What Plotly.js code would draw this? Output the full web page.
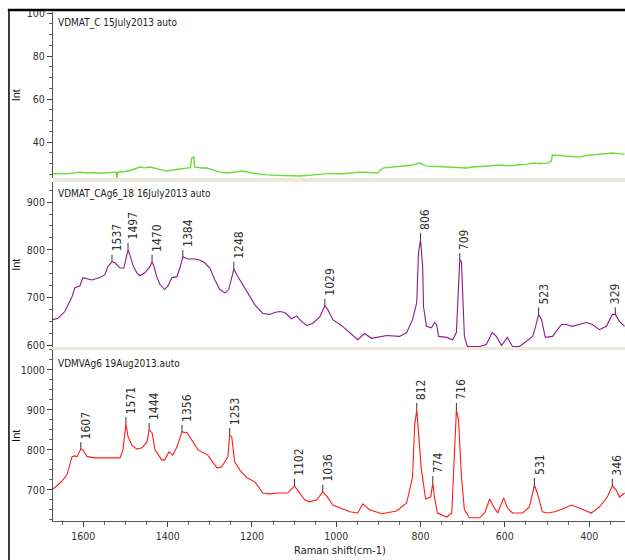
<!DOCTYPE html>
<html>
<head>
<meta charset="utf-8">
<script src="https://cdn.plot.ly/plotly-3.0.1.min.js"></script>
<style>html,body{margin:0;padding:0;background:#fff;}#chart{width:625px;height:560px;}</style>
</head>
<body>
<div id="chart"></div>
<script>
// ---- Data ----
const panelTitles = ["VDMAT_C 15July2013 auto", "VDMAT_CAg6_18 16July2013 auto", "VDMVAg6 19Aug2013.auto"];

// Top panel (green)
const greenX = [1672,1655,1640,1625,1608,1590,1575,1560,1540,1522,1520,1518,1500,1485,1466,1455,1442,1425,1402,1380,1360,1354,1346,1343,1338,1336,1330,1320,1307,1290,1275,1260,1240,1222,1200,1185,1165,1140,1115,1087,1060,1039,1015,992,970,944,920,902,890,870,850,835,819,802,786,760,731,710,691,677,650,630,613,590,572,550,534,515,499,490,487,470,454,440,423,410,399,380,360,345,330,316];
const greenY = [25.1,25.4,25.2,25.7,26.0,25.6,25.8,25.5,25.9,26.0,23.3,26.0,26.3,27.0,28.4,28.0,28.4,27.6,26.5,27.2,27.6,27.9,28.1,32.6,33.0,28.4,28.2,27.9,27.9,27.0,26.0,25.6,26.0,26.5,25.6,25.2,24.7,24.5,24.3,24.2,24.6,25.1,25.4,25.1,25.6,26.0,25.8,25.6,27.9,28.3,28.6,29.0,29.3,30.2,28.8,28.6,28.4,28.0,27.9,28.4,28.6,29.0,29.3,28.9,29.3,29.6,30.2,30.0,30.2,31.0,34.0,33.7,33.5,33.2,33.0,33.6,34.0,34.2,34.5,34.9,34.6,34.4];

// Middle panel (purple)
const purpleX = [1672,1660,1644,1627,1620,1608,1601,1592,1580,1561,1549,1542,1532,1525,1513,1504,1499,1494,1490,1482,1473,1466,1454,1442,1437,1433,1426,1418,1407,1399,1390,1378,1371,1364,1352,1335,1324,1312,1300,1288,1276,1264,1255,1248,1243,1236,1224,1210,1193,1174,1158,1146,1134,1122,1106,1094,1082,1070,1056,1039,1027,1020,1008,985,949,933,916,880,850,833,819,809,805,800,795,793,786,774,767,762,757,738,724,715,710,707,703,700,696,689,660,644,630,620,608,594,582,565,546,534,527,520,513,504,487,466,454,440,407,392,376,359,345,338,328,316];
const purpleY = [654,657,671,702,721,725,742,740,737,742,748,765,775,773,762,762,785,800,790,767,752,746,752,765,775,767,744,727,717,725,742,744,762,785,781,781,779,773,762,737,717,710,717,742,760,748,731,710,685,667,665,669,671,669,656,662,650,642,646,660,683,675,654,640,612,625,615,621,619,627,654,690,794,821,765,681,640,637,648,644,619,617,612,627,737,779,775,696,619,598,598,602,627,619,600,617,598,598,612,619,640,665,654,617,619,644,644,640,648,644,633,640,665,665,650,640];
const purplePeakX = [1532,1494,1437,1364,1243,1027,800,707,520,338];
const purplePeakY = [775,800,775,785,760,683,821,779,665,665];
const purplePeakLabels = ["1537","1497","1470","1384","1248","1029","806","709","523","329"];

// Bottom panel (red)
const redX = [1672,1655,1639,1627,1620,1615,1606,1601,1591,1572,1537,1513,1506,1499,1494,1485,1473,1461,1449,1444,1437,1430,1414,1407,1397,1388,1378,1366,1354,1343,1328,1305,1283,1272,1257,1253,1248,1241,1229,1212,1193,1174,1158,1141,1127,1115,1099,1087,1075,1063,1046,1032,1023,1008,968,949,937,921,892,857,833,819,814,809,805,798,788,776,771,767,760,738,726,719,715,710,703,696,684,660,648,636,629,617,603,594,582,558,542,534,530,523,511,499,482,463,442,418,395,376,357,345,336,328,316];
const redY = [702,717,737,783,785,783,802,800,783,780,780,780,800,865,833,812,802,805,820,850,843,800,775,775,795,787,807,845,843,825,800,787,755,757,783,837,833,770,750,730,720,692,690,692,692,692,710,692,675,670,675,695,685,662,645,642,665,650,640,647,667,732,862,900,850,750,677,682,717,682,642,632,642,800,900,875,732,650,630,630,642,677,662,642,680,655,642,642,657,692,712,692,645,642,645,652,662,652,642,657,682,710,700,682,692];
const redPeakX = [1606,1499,1444,1366,1253,1099,1032,809,771,715,530,345];
const redPeakY = [802,865,850,845,837,710,695,900,717,900,712,710];
const redPeakLabels = ["1607","1571","1444","1356","1253","1102","1036","812","774","716","531","346"];

// Axis ticks
const xTickVals = [1600,1400,1200,1000,800,600,400];
const topTicks = [40,60,80,100];
const midTicks = [600,700,800,900];
const botTicks = [700,800,900,1000];

// ---- Styles ----
const narrow = "Liberation Sans Narrow, DejaVu Sans Condensed, Arial Narrow, sans-serif";
const tickFont = {family: narrow, size: 10.5, color: "#333"};
const lblFont = {family: narrow, size: 12, color: "#333"};

const traces = [
  {x: greenX, y: greenY, xaxis: "x", yaxis: "y3", type: "scatter", mode: "lines",
   line: {color: "#66dd33", width: 1.4}, hoverinfo: "skip"},
  {x: purpleX, y: purpleY, xaxis: "x", yaxis: "y2", type: "scatter", mode: "lines",
   line: {color: "#8a1b8c", width: 1.1}, hoverinfo: "skip"},
  {x: redX, y: redY, xaxis: "x", yaxis: "y", type: "scatter", mode: "lines",
   line: {color: "#ff1a1a", width: 1.1}, hoverinfo: "skip"}
];

function yAxis(domain, range, ticks, minor) {
  return {
    domain: domain, range: range, tickvals: ticks, ticktext: ticks.map(String),
    ticks: "outside", ticklen: 5, tickcolor: "#444", tickwidth: 1,
    minor: {dtick: minor, ticks: "outside", ticklen: 3, tickcolor: "#666"},
    showline: true, linecolor: "#555", linewidth: 1,
    showgrid: false, zeroline: false, tickfont: tickFont, fixedrange: true
  };
}

const shapes = [];
const annotations = [];

function addPeaks(px, py, labels, yref) {
  for (let i = 0; i < px.length; i++) {
    shapes.push({type: "line", xref: "x", yref: yref, ysizemode: "pixel",
      x0: px[i], x1: px[i], yanchor: py[i], y0: 0, y1: 7,
      line: {color: "#333", width: 1}});
    const nearEdge = px[i] < 342;
    annotations.push({xref: "x", yref: yref, x: px[i], y: py[i], text: labels[i],
      showarrow: false, textangle: -90, xanchor: "center", yanchor: "bottom",
      xshift: nearEdge ? 0 : 5, yshift: 8, font: lblFont});
  }
}
addPeaks(purplePeakX, purplePeakY, purplePeakLabels, "y2");
addPeaks(redPeakX, redPeakY, redPeakLabels, "y");

// separator bands between panels
shapes.push({type: "rect", xref: "paper", yref: "paper", x0: 0, x1: 1, y0: 0.666, y1: 0.674,
  fillcolor: "#ece9d8", line: {width: 0}, layer: "below"});
shapes.push({type: "rect", xref: "paper", yref: "paper", x0: 0, x1: 1, y0: 0.336, y1: 0.342,
  fillcolor: "#ece9d8", line: {width: 0}, layer: "below"});
// outer frame
shapes.push({type: "line", xref: "paper", yref: "paper", x0: -0.079, x1: 1.01, y0: 1.004, y1: 1.004,
  line: {color: "#000", width: 2.5}});
shapes.push({type: "line", xref: "paper", yref: "paper", x0: -0.077, x1: -0.077, y0: 1.004, y1: -0.09,
  line: {color: "#000", width: 1.5}});

// panel titles
const titleY = [1, 0.666, 0.336];
const titleShift = [-3, -4, -6];
for (let i = 0; i < 3; i++) {
  annotations.push({xref: "paper", yref: "paper", x: 0.006, y: titleY[i], xanchor: "left", yanchor: "top",
    yshift: titleShift[i], showarrow: false, text: panelTitles[i],
    font: {family: narrow, size: 10, color: "#222"}});
}
// "Int" axis labels
const intY = [0.837, 0.504, 0.168];
for (let i = 0; i < 3; i++) {
  annotations.push({xref: "paper", yref: "paper", x: -0.064, y: intY[i], xanchor: "center", yanchor: "middle",
    showarrow: false, text: "Int", textangle: -90,
    font: {family: "Liberation Sans, Arial, sans-serif", size: 11, color: "#111"}});
}
// x-axis title
annotations.push({xref: "paper", yref: "paper", x: 0.502, y: -0.057, xanchor: "center", yanchor: "middle",
  showarrow: false, text: "Raman shift(cm-1)",
  font: {family: narrow, size: 11, color: "#222"}});

const layout = {
  width: 625, height: 560,
  margin: {l: 53, r: 0, t: 12, b: 39, pad: 0},
  paper_bgcolor: "#fff", plot_bgcolor: "#fff",
  showlegend: false,
  xaxis: {
    range: [1672, 315], anchor: "y", tickvals: xTickVals, ticktext: xTickVals.map(String),
    ticks: "outside", ticklen: 5, tickcolor: "#444",
    minor: {dtick: 50, ticks: "outside", ticklen: 3, tickcolor: "#666"},
    showline: true, linecolor: "#555", linewidth: 1,
    showgrid: false, zeroline: false, tickfont: tickFont, fixedrange: true
  },
  yaxis: yAxis([0, 0.336], [622, 1050], botTicks, 25),
  yaxis2: yAxis([0.342, 0.666], [597, 942], midTicks, 25),
  yaxis3: yAxis([0.674, 1], [23.3, 100.5], topTicks, 5),
  shapes: shapes,
  annotations: annotations
};

Plotly.newPlot("chart", traces, layout, {displayModeBar: false, staticPlot: true});
</script>
</body>
</html>
